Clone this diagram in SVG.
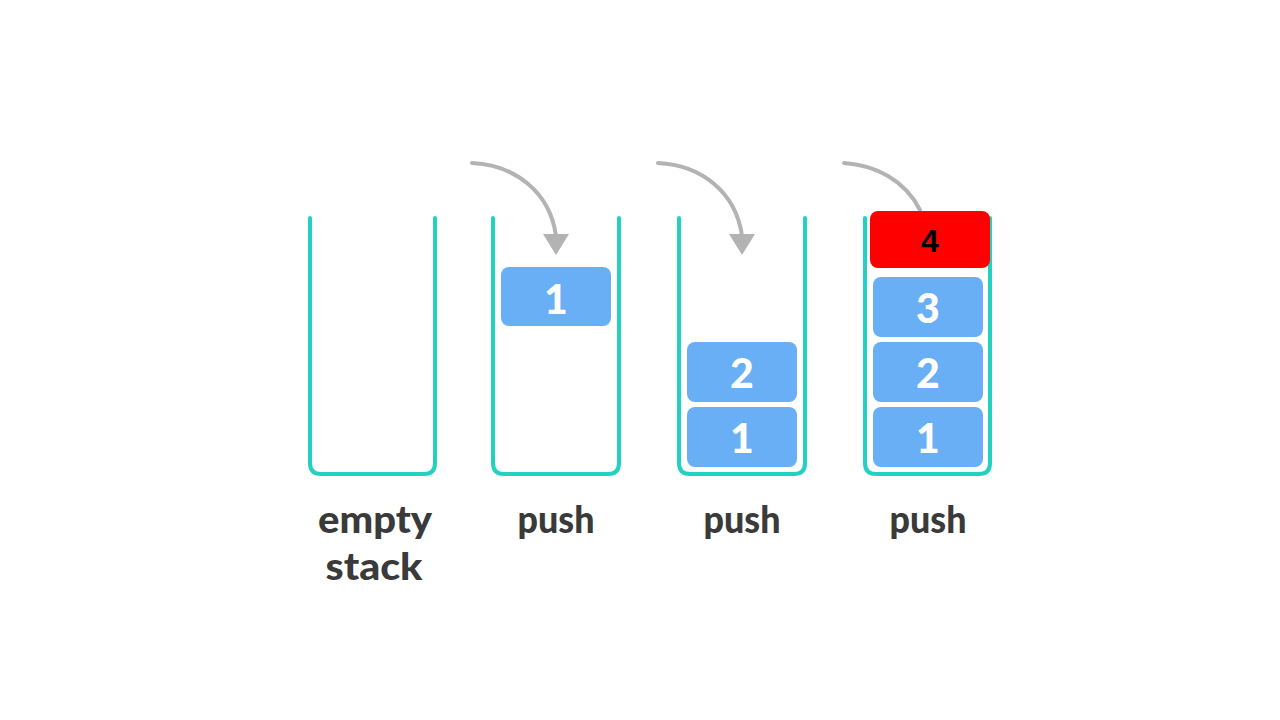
<svg xmlns="http://www.w3.org/2000/svg" width="1280" height="720" viewBox="0 0 1280 720">
<style>
.stack{fill:none;stroke:#22d1c0;stroke-width:4;stroke-linecap:round}
.blk{fill:#69aff5}
.top{fill:#ff0000}
.num{font-family:Lato,"Liberation Sans",sans-serif;font-weight:900;font-size:41px;fill:#ffffff;text-anchor:middle}
.num4{font-family:"Liberation Sans",Arial,sans-serif;font-weight:700;font-size:32px;fill:#000000;text-anchor:middle}
.lbl{font-family:Lato,"Liberation Sans",sans-serif;font-weight:900;font-size:37px;fill:#3a3a3a;text-anchor:middle}
.arr{fill:none;stroke:#b3b3b3;stroke-width:4;stroke-linecap:round}
.head{fill:#b3b3b3}
</style>
<rect width="1280" height="720" fill="#ffffff"/>
<g id="connectors">
<path class="arr" d="M472,163 C515,165 550,192 556,236"/>
<polygon class="head" points="543,234 569,234 556,255"/>
<path class="arr" d="M658,163 C701,165 736,192 742,236"/>
<polygon class="head" points="729,234 755,234 742,255"/>
<path class="arr" d="M844,163 C875,165 905,180 920,210"/>
</g>
<g id="stack-empty">
<path class="stack" d="M310,218 V463 Q310,474 321,474 H424 Q435,474 435,463 V218"/>
<text class="lbl" x="375" y="533" textLength="114" lengthAdjust="spacingAndGlyphs">empty</text>
<text class="lbl" x="374" y="580" textLength="97" lengthAdjust="spacingAndGlyphs">stack</text>
</g>
<g id="stack-push1">
<path class="stack" d="M493,218 V463 Q493,474 504,474 H608 Q619,474 619,463 V218"/>
<rect class="blk" x="501" y="267" width="110" height="59" rx="8"/>
<text class="num" x="556" y="314">1</text>
<text class="lbl" x="556" y="533" textLength="77" lengthAdjust="spacingAndGlyphs">push</text>
</g>
<g id="stack-push2">
<path class="stack" d="M679,218 V463 Q679,474 690,474 H794 Q805,474 805,463 V218"/>
<rect class="blk" x="687" y="342" width="110" height="60" rx="8"/>
<text class="num" x="742" y="388">2</text>
<rect class="blk" x="687" y="407" width="110" height="60" rx="8"/>
<text class="num" x="742" y="453">1</text>
<text class="lbl" x="742" y="533" textLength="77" lengthAdjust="spacingAndGlyphs">push</text>
</g>
<g id="stack-push3">
<path class="stack" d="M865,218 V463 Q865,474 876,474 H979 Q990,474 990,463 V218"/>
<rect class="top" x="870" y="211" width="120" height="57" rx="8"/>
<text class="num4" x="930" y="252">4</text>
<rect class="blk" x="873" y="277" width="110" height="60" rx="8"/>
<text class="num" x="928" y="323">3</text>
<rect class="blk" x="873" y="342" width="110" height="60" rx="8"/>
<text class="num" x="928" y="388">2</text>
<rect class="blk" x="873" y="407" width="110" height="60" rx="8"/>
<text class="num" x="928" y="453">1</text>
<text class="lbl" x="928" y="533" textLength="77" lengthAdjust="spacingAndGlyphs">push</text>
</g>
</svg>
